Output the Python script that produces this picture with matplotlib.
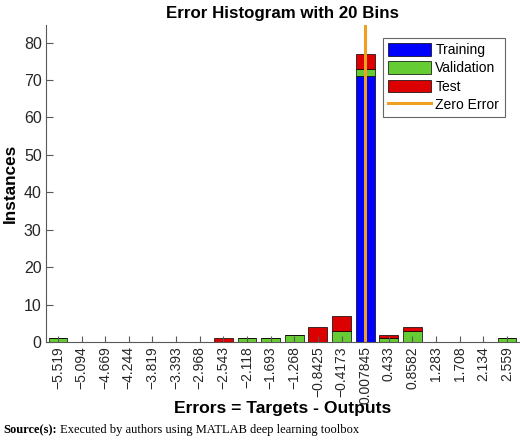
import matplotlib.pyplot as plt
import numpy as np

# bin centres and their labels as shown by MATLAB
bin_centers = [-5.519, -5.094, -4.669, -4.244, -3.819, -3.393, -2.968, -2.543, -2.118, -1.693,
               -1.268, -0.8425, -0.4173, 0.007845, 0.433, 0.8582, 1.283, 1.708, 2.134, 2.559]
tick_labels = ['\u22125.519', '\u22125.094', '\u22124.669', '\u22124.244', '\u22123.819',
               '\u22123.393', '\u22122.968', '\u22122.543', '\u22122.118', '\u22121.693',
               '\u22121.268', '\u22120.8425', '\u22120.4173', '0.007845', '0.433', '0.8582',
               '1.283', '1.708', '2.134', '2.559']

training = [0, 0, 0, 0, 0, 0, 0, 0, 0, 0, 0, 0, 0, 71, 0, 0, 0, 0, 0, 0]
validation = [1, 0, 0, 0, 0, 0, 0, 0, 1, 1, 2, 0, 3, 2, 1, 3, 0, 0, 0, 1]
test = [0, 0, 0, 0, 0, 0, 0, 1, 0, 0, 0, 4, 4, 4, 1, 1, 0, 0, 0, 0]

plt.rcParams['font.family'] = ['Liberation Sans', 'DejaVu Sans']

x = np.array(bin_centers)
tr = np.array(training)
va = np.array(validation)
te = np.array(test)
bin_w = (bin_centers[-1] - bin_centers[0]) / 19
bar_w = 0.8 * bin_w

fig = plt.figure(figsize=(5.2, 4.43), dpi=100)
ax = fig.add_axes([0.0894, 0.228, 0.9086, 0.7156])

b1 = ax.bar(x, tr, bar_w, color='#0000ff', edgecolor='black', linewidth=0.5, label='Training')
b2 = ax.bar(x, va, bar_w, bottom=tr, color='#66cc33', edgecolor='black', linewidth=0.5, label='Validation')
b3 = ax.bar(x, te, bar_w, bottom=tr + va, color='#dd0000', edgecolor='black', linewidth=0.5, label='Test')
zl = ax.axvline(0, color='#f0a020', linewidth=2.2, label='Zero Error')

ax.set_xlim(bin_centers[0] - 0.207, bin_centers[-1] + 0.216)
ax.set_ylim(0, 1.1 * max(tr + va + te))
ax.set_xticks(bin_centers)
ax.set_xticklabels(tick_labels, rotation=90, fontsize=10, color='#262626')
ax.set_yticks(np.arange(0, 90, 10))
ax.tick_params(axis='y', labelsize=11.5, labelcolor='#262626', direction='in', length=5, width=0.8, color='0.35')
ax.tick_params(axis='x', direction='in', length=4, width=0.8, color='0.35', pad=3)

for s in ['top', 'right']:
    ax.spines[s].set_visible(False)
for s in ['left', 'bottom']:
    ax.spines[s].set_color('0.35')
    ax.spines[s].set_linewidth(0.8)

ax.set_title('Error Histogram with 20 Bins', fontsize=12.2, fontweight='bold', pad=5)
ax.set_xlabel('Errors = Targets - Outputs', fontsize=12.6, fontweight='bold', labelpad=-2)
ax.set_ylabel('Instances', fontsize=12.3, fontweight='bold', labelpad=4)

leg = ax.legend([b1, b2, b3, zl], ['Training', 'Validation', 'Test', 'Zero Error'],
                loc='upper right', bbox_to_anchor=(0.97, 0.96), fontsize=10, fancybox=False,
                edgecolor='0.4', framealpha=1, handlelength=3.1, handleheight=1.0,
                labelspacing=0.3, borderpad=0.4, handletextpad=0.3, borderaxespad=0)
leg.get_frame().set_linewidth(0.8)

src = fig.text(0.006, 0.016, 'Source(s):', fontsize=9, fontweight='bold',
               family=['Liberation Serif', 'DejaVu Serif'], va='bottom')
ax.annotate(' Executed by authors using MATLAB deep learning toolbox', xy=(1, 0), xycoords=src,
            fontsize=9, family=['Liberation Serif', 'DejaVu Serif'], va='bottom', annotation_clip=False)

fig.savefig('out.png', dpi=100)
